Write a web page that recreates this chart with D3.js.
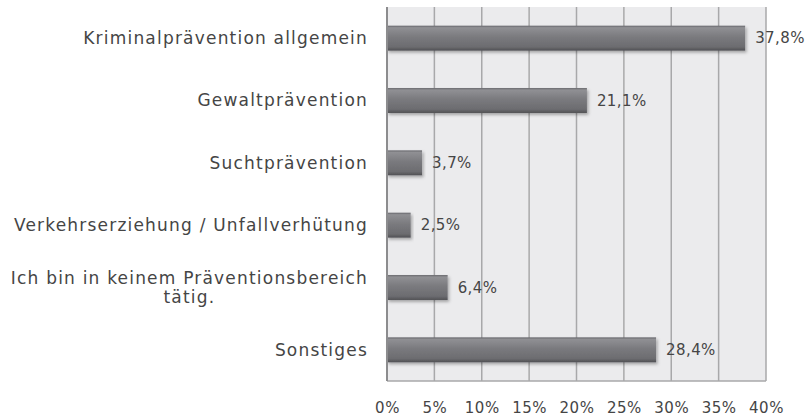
<!DOCTYPE html>
<html>
<head>
<meta charset="utf-8">
<script src="https://cdn.jsdelivr.net/npm/d3@7"></script>
<style>
  html, body { margin: 0; padding: 0; background: #ffffff; }
  svg { display: block; }
  text { font-family: "DejaVu Sans", sans-serif; fill: #454545; }
</style>
</head>
<body>
<svg id="chart" width="807" height="418"></svg>
<script>
// Präventionsbereiche, Anteil der Nennungen in Prozent
const categories = [
  "Kriminalprävention allgemein",
  "Gewaltprävention",
  "Suchtprävention",
  "Verkehrserziehung / Unfallverhütung",
  "Ich bin in keinem Präventionsbereich tätig.",
  "Sonstiges"
];
const values = [37.8, 21.1, 3.7, 2.5, 6.4, 28.4];
const tickValues = [0, 5, 10, 15, 20, 25, 30, 35, 40];

// Zeilenumbrüche der Kategorienamen
const labelLines = {
  "Ich bin in keinem Präventionsbereich tätig.": ["Ich bin in keinem Präventionsbereich", "tätig."]
};

const svg = d3.select("#chart");
const margin = { top: 7, right: 41, bottom: 37, left: 387 };
const width = 807 - margin.left - margin.right;
const height = 418 - margin.top - margin.bottom;

const defs = svg.append("defs");
const grad = defs.append("linearGradient")
  .attr("id", "barGrad").attr("x1", 0).attr("y1", 0).attr("x2", 0).attr("y2", 1);
[[0, "#66666a"], [0.08, "#909094"], [0.45, "#7a7a7e"], [0.85, "#6c6c70"], [1, "#505054"]]
  .forEach(([o, c]) => grad.append("stop").attr("offset", o).attr("stop-color", c));
const shadow = defs.append("filter").attr("id", "barShadow")
  .attr("x", "-5%").attr("y", "-20%").attr("width", "115%").attr("height", "160%");
shadow.append("feDropShadow").attr("dx", 1.5).attr("dy", 2).attr("stdDeviation", 1.5)
  .attr("flood-color", "#000").attr("flood-opacity", 0.3);

const g = svg.append("g").attr("transform", `translate(${margin.left},${margin.top})`);

const x = d3.scaleLinear().domain([0, 40]).range([0, width]);
const y = d3.scaleBand().domain(categories).range([0, height]).paddingInner(0.6).paddingOuter(0.3);

// Plotfläche
g.append("rect").attr("x", 0).attr("y", 0).attr("width", width).attr("height", height)
  .attr("fill", "#ebebed");

// Gitterlinien
g.append("g").selectAll("line").data(tickValues.slice(1)).join("line")
  .attr("x1", d => x(d)).attr("x2", d => x(d))
  .attr("y1", 0).attr("y2", height)
  .attr("stroke", "#a8a8aa").attr("stroke-width", 1.5);

// untere Begrenzung
g.append("line").attr("x1", 0).attr("x2", width).attr("y1", height).attr("y2", height)
  .attr("stroke", "#a8a8aa").attr("stroke-width", 1.5);

// Balken
g.append("g").selectAll("rect").data(categories).join("rect")
  .attr("x", 0)
  .attr("y", d => y(d))
  .attr("width", (d, i) => x(values[i]))
  .attr("height", y.bandwidth())
  .attr("fill", "url(#barGrad)")
  .attr("filter", "url(#barShadow)");

// Y-Achsenlinie
g.append("line").attr("x1", 0).attr("x2", 0).attr("y1", 0).attr("y2", height)
  .attr("stroke", "#8c8c8e").attr("stroke-width", 2);

// Werte
g.append("g").selectAll("text").data(categories).join("text")
  .attr("x", (d, i) => x(values[i]) + 10)
  .attr("y", d => y(d) + y.bandwidth() / 2)
  .attr("dy", "0.35em")
  .attr("font-size", 15)
  .attr("letter-spacing", 0.4)
  .text((d, i) => values[i].toFixed(1).replace(".", ",") + "%");

// Kategorien
const yAxis = d3.axisLeft(y).tickSize(0).tickFormat("");
const ya = g.append("g").call(yAxis);
ya.select(".domain").remove();
ya.selectAll(".tick").each(function (d) {
  const lines = labelLines[d] || [d];
  const t = d3.select(this).append("text")
    .attr("font-size", 17)
    .attr("letter-spacing", 1.2);
  const lh = 19;
  let firstWidth = 0;
  lines.forEach((l, k) => {
    const ts = t.append("tspan")
      .attr("y", (k - (lines.length - 1) / 2) * lh)
      .attr("dy", "0.35em")
      .text(l);
    if (k === 0) {
      ts.attr("x", -19).attr("text-anchor", "end");
      firstWidth = ts.node().getComputedTextLength();
    } else {
      // Folgezeilen unter der ersten Zeile zentriert
      ts.attr("x", -19 - firstWidth / 2).attr("text-anchor", "middle");
    }
  });
});

// X-Achse
const xAxis = d3.axisBottom(x).tickValues(tickValues).tickSize(0).tickPadding(21)
  .tickFormat(d => d + "%");
const xa = g.append("g").attr("transform", `translate(0,${height})`).call(xAxis);
xa.select(".domain").remove();
xa.selectAll("text").attr("font-size", 15).attr("letter-spacing", 0.5)
  .attr("font-family", "DejaVu Sans, sans-serif").attr("fill", "#454545");
</script>
</body>
</html>
